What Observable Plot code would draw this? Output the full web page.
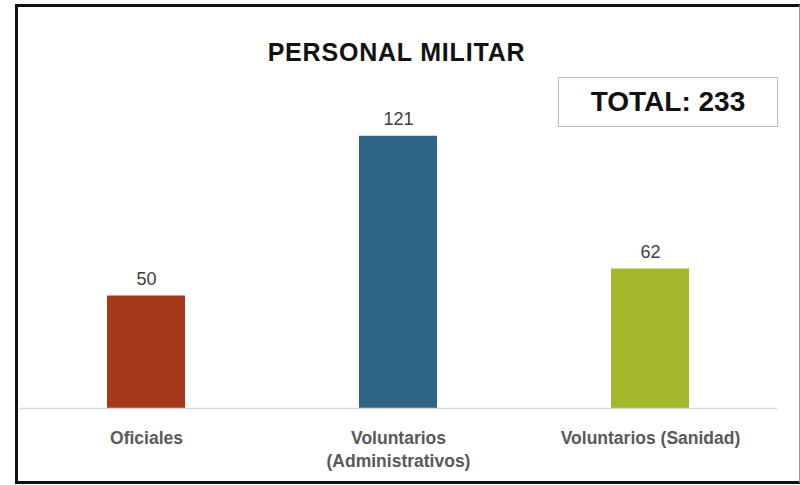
<!DOCTYPE html>
<html>
<head>
<meta charset="utf-8">
<script src="https://cdn.jsdelivr.net/npm/d3@7"></script>
<script src="https://cdn.jsdelivr.net/npm/@observablehq/plot@0.6"></script>
<style>
  html, body { margin: 0; padding: 0; background: #fff; }
  body { width: 800px; height: 485px; position: relative; overflow: hidden; font-family: "Liberation Sans", Arial, sans-serif; }
  #frame { position: absolute; left: 15px; top: 4px; width: 785px; height: 480px; box-sizing: border-box;
           border: 3px solid #111; border-right: 1px solid #999; pointer-events: none; }
  #title { position: absolute; left: 0; width: 793px; top: 40px; text-align: center; font-weight: bold; font-size: 25px; letter-spacing: 0.8px; color: #111; line-height: 1; }
  #total { position: absolute; left: 558px; top: 77px; width: 220px; height: 50px; box-sizing: border-box;
           border: 1px solid #c0c0c0; display: flex; align-items: center; justify-content: center;
           font-weight: bold; font-size: 28px; color: #111; }
  #chart { position: absolute; left: 0; top: 0; }
  g[aria-label="x-axis tick label"] text { font-weight: bold; }
</style>
</head>
<body>
<div id="chart"></div>
<div id="title">PERSONAL MILITAR</div>
<div id="total"></div>
<div id="frame"></div>
<script>
const categories = ["Oficiales", "Voluntarios (Administrativos)", "Voluntarios (Sanidad)"];
const tickLabels = ["Oficiales", "Voluntarios\n(Administrativos)", "Voluntarios (Sanidad)"];
const values = [50, 121, 62];
const barColors = ["#a5391a", "#2e6586", "#a4b62a"];

const data = categories.map((c, i) => ({category: c, value: values[i]}));
const labelOf = new Map(categories.map((c, i) => [c, tickLabels[i]]));

document.getElementById("total").textContent = "TOTAL: " + d3.sum(values);

const chart = Plot.plot({
  width: 800,
  height: 485,
  marginLeft: 19,
  marginRight: 23,
  marginTop: 93,
  marginBottom: 77,
  style: {fontFamily: "'Liberation Sans', Arial, sans-serif", background: "transparent"},
  x: {domain: categories, paddingInner: 0.69, paddingOuter: 0.345, axis: null},
  y: {domain: [0, 140], axis: null},
  color: {domain: categories, range: barColors},
  marks: [
    Plot.barY(data, {x: "category", y: "value", fill: "category"}),
    Plot.ruleY([0], {stroke: "#d9d9d9", strokeWidth: 1.5}),
    Plot.text(data, {x: "category", y: "value", text: d => String(d.value), lineAnchor: "bottom", dy: -11, fontSize: 18, fill: "#404040"}),
    Plot.axisX({tickSize: 0, tickPadding: 20, fontSize: 17.5, lineHeight: 1.28, fill: "#595959", label: null, tickFormat: d => labelOf.get(d)})
  ]
});
document.getElementById("chart").appendChild(chart);
</script>
</body>
</html>
